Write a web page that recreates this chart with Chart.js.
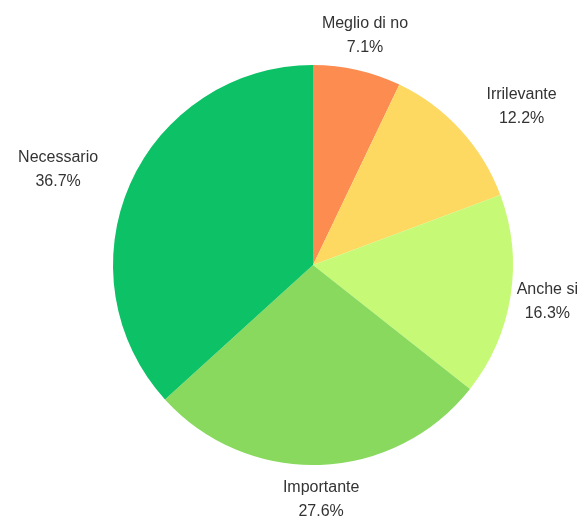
<!DOCTYPE html>
<html>
<head>
<meta charset="utf-8">
<script src="https://cdn.jsdelivr.net/npm/chart.js@4"></script>
<style>
  body { margin: 0; background: #fff; }
  #myChart { display: block; }
</style>
</head>
<body>
<canvas id="myChart" width="583" height="524"></canvas>
<script>
const labels = ['Meglio di no', 'Irrilevante', 'Anche si', 'Importante', 'Necessario'];
const percentages = [7.1, 12.2, 16.3, 27.6, 36.7];
const sliceColors = ['#fd8c50', '#fdd961', '#c6fa76', '#88d95e', '#0cc166'];

// labels outside the pie: name on one line, percentage below
const outsideLabels = {
    id: 'outsideLabels',
    afterDatasetsDraw(chart) {
        const ctx = chart.ctx;
        const meta = chart.getDatasetMeta(0);
        const W = chart.width;
        ctx.save();
        ctx.font = '16px "Liberation Sans", Arial, sans-serif';
        ctx.fillStyle = '#333';
        ctx.textBaseline = 'middle';
        ctx.textAlign = 'center';
        meta.data.forEach((arc, i) => {
            const p = arc.getProps(['x', 'y', 'startAngle', 'endAngle', 'outerRadius'], true);
            const mid = (p.startAngle + p.endAngle) / 2;
            const r = p.outerRadius + 35;
            const ax = p.x + Math.cos(mid) * r;
            const ay = p.y + Math.sin(mid) * r;
            const lines = [labels[i], percentages[i].toFixed(1) + '%'];
            const w = Math.max(...lines.map(t => ctx.measureText(t).width));
            let left;
            if (Math.abs(Math.cos(mid)) < 0.35) left = ax - w / 2;
            else if (Math.cos(mid) > 0) left = ax;
            else left = ax - w;
            left = Math.min(Math.max(left, 5), W - 5 - w);
            const cx = left + w / 2;
            ctx.fillText(lines[0], cx, ay - 12);
            ctx.fillText(lines[1], cx, ay + 12);
        });
        ctx.restore();
    }
};

new Chart(document.getElementById('myChart'), {
    type: 'pie',
    data: {
        labels: labels,
        datasets: [{
            data: percentages,
            backgroundColor: sliceColors,
            borderWidth: 0
        }]
    },
    options: {
        responsive: false,
        animation: false,
        layout: { padding: { left: 113, right: 70, top: 65, bottom: 59 } },
        plugins: {
            legend: { display: false },
            tooltip: { enabled: false }
        }
    },
    plugins: [outsideLabels]
});
</script>
</body>
</html>
